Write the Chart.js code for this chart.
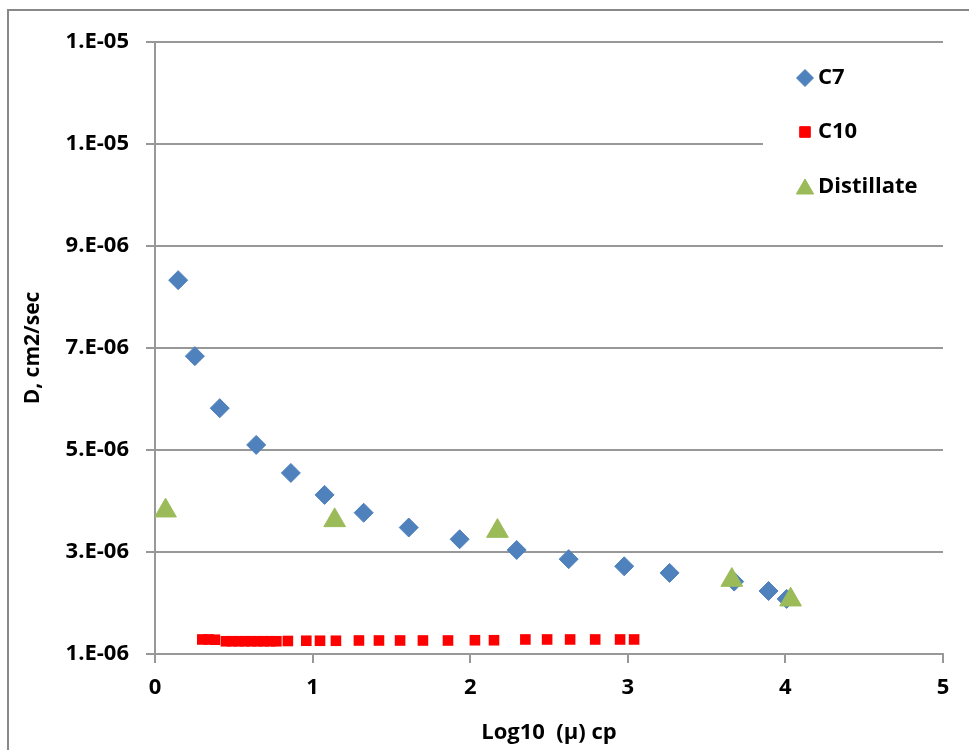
<!DOCTYPE html>
<html>
<head>
<meta charset="utf-8">
<script src="https://cdn.jsdelivr.net/npm/chart.js@4/dist/chart.umd.min.js"></script>
<style>
  html, body { margin: 0; padding: 0; background: #fff; }
  canvas { display: block; }
</style>
</head>
<body>
<canvas id="chart" width="969" height="750"></canvas>
<script>
// values (x = log10 viscosity, y = D in cm2/sec)
const c7X = [0.147, 0.253, 0.411, 0.642, 0.862, 1.076, 1.324, 1.61, 1.933, 2.295, 2.625, 2.977, 3.265, 3.675, 3.893, 4.008];
const c7Y = [8.33e-6, 6.84e-6, 5.82e-6, 5.10e-6, 4.55e-6, 4.12e-6, 3.77e-6, 3.48e-6, 3.25e-6, 3.04e-6, 2.86e-6, 2.72e-6, 2.59e-6, 2.42e-6, 2.235e-6, 2.08e-6];

const c10X = [0.30, 0.34, 0.38, 0.45, 0.49, 0.53, 0.57, 0.61, 0.65, 0.69, 0.73, 0.77, 0.843, 0.96, 1.047, 1.148, 1.294, 1.421, 1.555, 1.70, 1.859, 2.03, 2.151, 2.35, 2.488, 2.634, 2.793, 2.951, 3.04];
const c10Y = [1.285e-6, 1.285e-6, 1.28e-6, 1.25e-6, 1.25e-6, 1.25e-6, 1.25e-6, 1.25e-6, 1.25e-6, 1.25e-6, 1.25e-6, 1.25e-6, 1.255e-6, 1.26e-6, 1.26e-6, 1.26e-6, 1.265e-6, 1.265e-6, 1.265e-6, 1.265e-6, 1.265e-6, 1.27e-6, 1.27e-6, 1.285e-6, 1.285e-6, 1.285e-6, 1.285e-6, 1.285e-6, 1.285e-6];

const distX = [0.067, 1.14, 2.173, 3.66, 4.033];
const distY = [3.81e-6, 3.62e-6, 3.41e-6, 2.45e-6, 2.065e-6];

const xTicks = [0, 1, 2, 3, 4, 5];
const yTicks = [1e-6, 3e-6, 5e-6, 7e-6, 9e-6, 1.1e-5, 1.3e-5];
const yTickLabels = ['1.E-06', '3.E-06', '5.E-06', '7.E-06', '9.E-06', '1.E-05', '1.E-05'];

const seriesNames = ['C7', 'C10', 'Distillate'];
const seriesColors = ['#4F81BD', '#FF0000', '#9BBB59'];
const seriesShapes = ['rectRot', 'rect', 'triangle'];

const FONT = '"Open Sans", Lato, sans-serif';
const GRID = '#989898';

const toPoints = (xs, ys) => xs.map((x, i) => ({ x: x, y: ys[i] }));

// white page + the two visible edges of the outer chart frame
const frame = {
    id: 'frame',
    beforeDraw(chart) {
        const ctx = chart.ctx;
        ctx.save();
        ctx.fillStyle = '#fff';
        ctx.fillRect(0, 0, chart.width, chart.height);
        ctx.strokeStyle = '#888';
        ctx.lineWidth = 2;
        ctx.beginPath();
        ctx.moveTo(8, chart.height);
        ctx.lineTo(8, 10);
        ctx.lineTo(chart.width, 10);
        ctx.stroke();
        ctx.restore();
    }
};

// Excel-like legend sitting inside the plot area, covering the grid behind it
const insideLegend = {
    id: 'insideLegend',
    beforeDatasetsDraw(chart) {
        const ctx = chart.ctx;
        const area = chart.chartArea;
        ctx.save();
        ctx.fillStyle = '#fff';
        ctx.fillRect(763, 52, area.right - 763 + 10, 184);
        const rows = [78, 132, 187];
        const sizes = [8.5, 7.5, 10];
        seriesNames.forEach((name, i) => {
            ctx.fillStyle = seriesColors[i];
            ctx.strokeStyle = seriesColors[i];
            Chart.helpers.drawPoint(ctx, { pointStyle: seriesShapes[i], radius: sizes[i], borderWidth: 1, rotation: 0 }, 805, rows[i] + (i === 2 ? 2 : 0));
            ctx.fillStyle = '#000';
            ctx.font = 'bold 22px ' + FONT;
            ctx.textBaseline = 'middle';
            ctx.textAlign = 'left';
            ctx.fillText(name, 818, rows[i]);
        });
        ctx.restore();
    }
};

new Chart(document.getElementById('chart'), {
    type: 'scatter',
    data: {
        datasets: [
            {
                label: seriesNames[0],
                data: toPoints(c7X, c7Y),
                pointStyle: seriesShapes[0],
                pointRadius: 9.5,
                pointHoverRadius: 9.5,
                backgroundColor: seriesColors[0],
                borderColor: seriesColors[0],
                borderWidth: 1,
                order: 3
            },
            {
                label: seriesNames[1],
                data: toPoints(c10X, c10Y),
                pointStyle: seriesShapes[1],
                pointRadius: 7.5,
                pointHoverRadius: 7.5,
                backgroundColor: seriesColors[1],
                borderColor: seriesColors[1],
                borderWidth: 0,
                order: 2
            },
            {
                label: seriesNames[2],
                data: toPoints(distX, distY),
                pointStyle: seriesShapes[2],
                pointRadius: 12.5,
                pointHoverRadius: 12.5,
                backgroundColor: seriesColors[2],
                borderColor: seriesColors[2],
                borderWidth: 1,
                order: 1
            }
        ]
    },
    options: {
        responsive: false,
        animation: false,
        layout: { padding: { left: 0, top: 42, right: 26, bottom: 0 } },
        plugins: {
            legend: { display: false },
            tooltip: { enabled: false }
        },
        scales: {
            x: {
                type: 'linear',
                min: 0,
                max: 5,
                afterBuildTicks: (scale) => { scale.ticks = xTicks.map(v => ({ value: v })); },
                afterFit: (scale) => { scale.height = 96; },
                grid: { drawOnChartArea: false, drawTicks: true, tickLength: 9, color: GRID, lineWidth: 2 },
                border: { display: true, color: GRID, width: 2 },
                ticks: { color: '#000', padding: 12, font: { family: FONT, size: 22, weight: 'bold' } },
                title: {
                    display: true,
                    text: 'Log10  (μ) cp',
                    color: '#000',
                    padding: { top: 0, bottom: 4 },
                    font: { family: FONT, size: 22, weight: 'bold' }
                }
            },
            y: {
                type: 'linear',
                min: 1e-6,
                max: 1.3e-5,
                afterBuildTicks: (scale) => { scale.ticks = yTicks.map(v => ({ value: v })); },
                afterFit: (scale) => { scale.width = 155; },
                grid: { drawTicks: true, tickLength: 9, color: GRID, lineWidth: 2 },
                border: { display: true, color: GRID, width: 2 },
                ticks: {
                    color: '#000',
                    padding: 17,
                    font: { family: FONT, size: 22, weight: 'bold' },
                    callback: (value, index) => yTickLabels[index]
                },
                title: {
                    display: true,
                    text: 'D, cm2/sec',
                    color: '#000',
                    padding: { top: 20, bottom: 0 },
                    font: { family: FONT, size: 21, weight: 'bold' }
                }
            }
        }
    },
    plugins: [frame, insideLegend]
});
</script>
</body>
</html>
